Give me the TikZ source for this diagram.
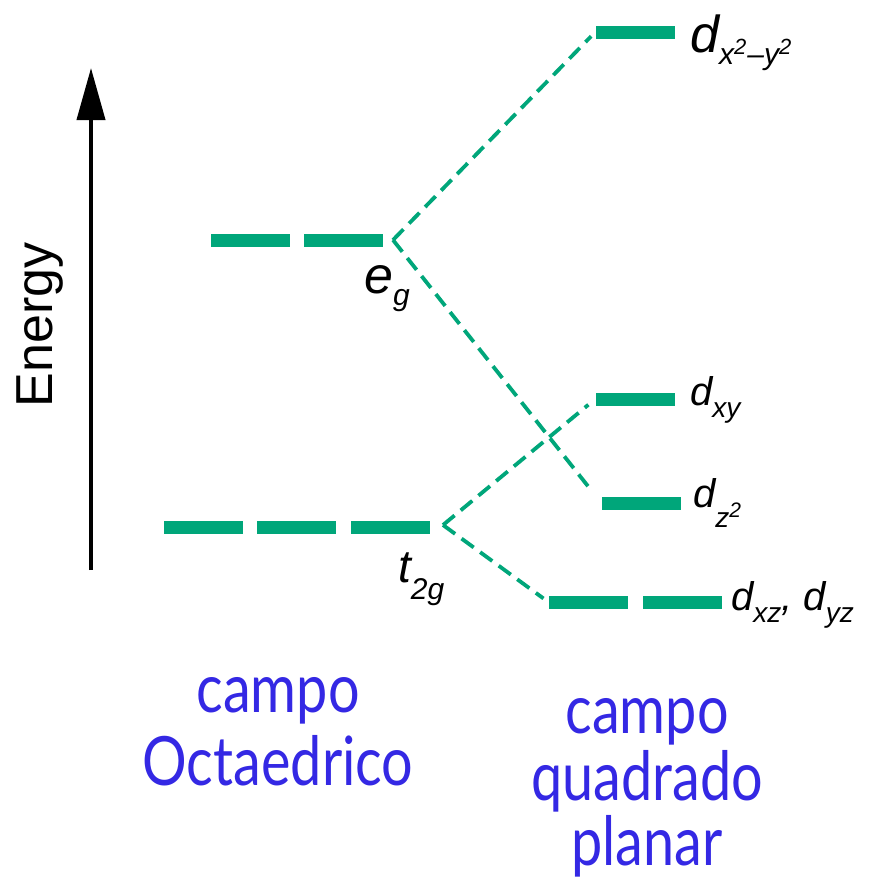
\documentclass[tikz,border=0pt]{standalone}
\usepackage{fontspec}
\setmainfont{Liberation Sans}
\newfontfamily\handfont{Lato}
\usetikzlibrary{arrows.meta}
\definecolor{lvl}{RGB}{0,166,122}
\definecolor{hand}{RGB}{52,40,228}
\newcommand{\fsz}[1]{\fontsize{#1}{#1}\selectfont}
\tikzset{
  bar/.style={fill=lvl, draw=none, inner sep=0pt, minimum height=13pt, minimum width=79pt},
  conn/.style={draw=lvl, line width=3.8pt, dash pattern=on 15pt off 8pt},
  lab/.style={anchor=base west, inner sep=0pt, font=\itshape},
  handtxt/.style={anchor=base, inner sep=0pt, text=hand, font=\handfont\fsz{68}}
}
\begin{document}
\begin{tikzpicture}[x=1pt,y=-1pt]
\useasboundingbox (0,0) rectangle (877,886);
\fill[white] (0,0) rectangle (877,886);

% energy axis
\coordinate (ebot) at (91,570);
\coordinate (etop) at (91,68);
\draw[line width=4pt, -{Triangle[length=52pt, width=28pt]}] (ebot) -- (etop);
\node[rotate=90, anchor=base, inner sep=0pt, font=\fsz{52}] (energy) at (52,325) {Energy};

% octahedral levels
\node[bar] (eg1) at (250,240) {};
\node[bar] (eg2) at (343,240) {};
\node[bar] (t1) at (203,527) {};
\node[bar] (t2) at (296,527) {};
\node[bar] (t3) at (390,527) {};

% square planar levels
\node[bar] (x2y2) at (635,32) {};
\node[bar] (xy) at (635,399) {};
\node[bar] (z2) at (641,503) {};
\node[bar] (xz) at (588,602) {};
\node[bar] (yz) at (682,602) {};

% connectors
\coordinate (egj) at (393,240);
\coordinate (tj) at (443,525);
\draw[conn, shorten >=6pt] (egj) -- (x2y2.west);
\draw[conn, shorten >=14pt] (egj) -- (z2.west);
\draw[conn, shorten >=9pt] (tj) -- (xy.west);
\draw[conn, shorten >=6pt] (tj) -- (xz.west);

% labels
\node[lab] (leg) at (364,293) {\fsz{52}e\raisebox{-12pt}{\fsz{30}g}};
\node[lab] (lt2g) at (398,582) {\fsz{46}t\raisebox{-17pt}{\fsz{30}2g}};
\node[lab] (lx2y2) at (690,52) {\fsz{52}d\raisebox{-13pt}{\fsz{30}x\raisebox{11pt}{\fsz{22}2}\kern1pt–y\raisebox{11pt}{\fsz{22}2}}};
\node[lab] (lxy) at (690,405) {\fsz{40}d\raisebox{-12pt}{\fsz{28}xy}};
\node[lab] (lz2) at (693,507) {\fsz{40}d\raisebox{-20pt}{\fsz{28}z\raisebox{10pt}{\fsz{21}2}}};
\node[lab] (lxzyz) at (731,610) {\fsz{40}d\raisebox{-12pt}{\fsz{28}xz}, d\raisebox{-12pt}{\fsz{28}yz}};

% handwritten captions
\node[handtxt] (c1a) at (278,712) {\scalebox{0.82}[1]{campo}};
\node[handtxt] (c1b) at (278,785) {\scalebox{0.82}[1]{Octaedrico}};
\node[handtxt] (c2a) at (647,733) {\scalebox{0.82}[1]{campo}};
\node[handtxt] (c2b) at (647,800) {\scalebox{0.82}[1]{quadrado}};
\node[handtxt] (c2c) at (647,865) {\scalebox{0.82}[1]{planar}};
\end{tikzpicture}
\end{document}
